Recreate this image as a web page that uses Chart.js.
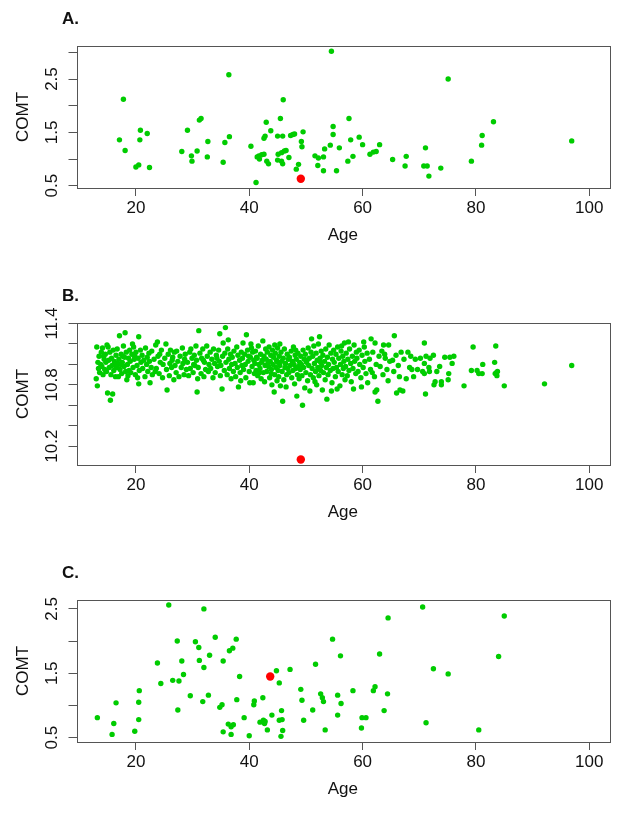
<!DOCTYPE html>
<html>
<head>
<meta charset="utf-8">
<script src="https://cdn.jsdelivr.net/npm/chart.js@4.4.1/dist/chart.umd.min.js"></script>
<style>
  html, body { margin: 0; padding: 0; background: #fff; overflow: hidden; }
  body { width: 621px; height: 815px; position: relative; }
  canvas { position: absolute; left: 0; }
</style>
</head>
<body>
<canvas id="chartA" width="621" height="277" style="top:0px"></canvas>
<canvas id="chartB" width="621" height="277" style="top:277px"></canvas>
<canvas id="chartC" width="621" height="277" style="top:554px"></canvas>
<script>
// ════════════════════════════════════════
// DATA
// ════════════════════════════════════════

const AGE_TICKS = [20, 40, 60, 80, 100];
const AGE_RANGE = [9.52, 103.48];

// Panel A
const yTicksA  = [0.5, 1, 1.5, 2, 2.5, 3];
const yLabelsA = [0.5, 1.5, 2.5];
const yRangeA  = [0.457, 3.119];
const ptsA = [
  [17.8,2.12],[17.1,1.36],[18.1,1.16],[20.8,1.54],[20.7,1.36],[22.0,1.48],[20.0,0.85],[20.5,0.89],[22.4,0.84],
  [28.1,1.14],[29.1,1.54],[29.8,1.06],[29.9,0.96],[31.2,1.73],[31.5,1.76],[30.8,1.15],[32.7,1.33],[32.6,1.04],
  [35.4,0.94],[35.7,1.31],[36.5,1.42],[36.4,2.58],
  [40.3,1.24],[41.2,0.56],[41.4,1.04],[41.7,1.06],[41.8,1.00],[42.2,1.08],[42.6,1.09],[43.0,1.69],[42.8,1.43],
  [42.6,1.39],[43.8,1.53],[43.1,0.96],[43.4,0.91],
  [45.0,1.43],[45.5,1.76],[46.0,2.11],[45.9,1.43],[45.0,0.98],[45.7,0.96],[45.9,0.91],[45.1,1.09],[45.7,1.12],
  [46.2,1.15],[46.5,1.16],[47.0,1.03],[47.3,1.44],[47.7,1.46],[48.0,1.47],
  [49.5,1.51],[49.2,1.33],[49.3,1.23],[48.3,0.81],[48.7,0.90],
  [51.6,1.06],[52.2,1.02],[52.1,0.88],[53.1,1.04],[53.1,0.78],[53.3,1.19],[54.3,1.26],[54.8,1.46],[54.8,1.61],
  [54.5,3.02],[55.4,0.78],[55.9,1.21],
  [57.6,1.76],[57.9,1.36],[59.4,1.41],[60.0,1.27],[58.3,1.05],[57.4,0.96],[61.3,1.09],[61.9,1.13],[62.4,1.14],[63.0,1.27],
  [65.3,0.99],[67.7,1.05],[67.5,0.87],[71.1,1.21],[70.8,0.87],[71.4,0.87],[71.7,0.68],[73.8,0.83],[75.1,2.50],
  [79.2,0.96],[81.0,1.26],[81.1,1.44],[83.1,1.70],[96.9,1.34]
];
const redA = [[49.1, 0.63]];

// Panel B
const yTicksB  = [10.2, 10.4, 10.6, 10.8, 11.0, 11.2, 11.4];
const yLabelsB = [10.2, 10.8, 11.4];
const yRangeB  = [10.016, 11.405];
const ptsB = [
  [13.1,11.17],[13.0,10.86],[13.2,10.79],[13.3,11.02],[13.4,10.96],[13.5,11.08],[13.6,10.92],[13.8,11.00],[13.9,11.12],[14.1,11.16],
  [14.0,10.98],[14.2,10.90],[14.4,11.05],[14.5,10.95],[14.6,11.10],[14.8,10.93],[14.9,11.19],[14.7,11.02],[14.3,11.08],
  [15.0,10.72],[15.1,11.17],[15.2,11.04],[15.3,10.97],[15.5,10.65],[15.4,11.12],[15.6,10.90],[15.7,11.06],[15.9,10.71],[15.8,10.99],
  [16.0,11.14],[16.1,10.94],[16.2,11.03],[16.4,10.88],[16.5,11.09],[16.6,10.97],[16.8,11.01],[16.9,10.88],[16.7,11.15],[16.3,11.00],
  [17.1,11.28],[17.0,11.05],[17.2,10.95],[17.4,11.10],[17.5,10.91],[17.6,11.02],[17.8,11.18],[17.9,10.98],[18.1,11.31],[18.0,11.07],
  [18.2,10.93],[18.4,10.85],[18.3,11.12],[18.5,11.00],[18.7,11.06],[18.8,10.94],[18.9,11.14],[18.6,10.89],[17.7,11.08],[17.3,11.00],
  [19.0,11.03],[19.1,10.92],[19.3,11.10],[19.4,11.20],[19.6,11.17],[19.5,10.97],[19.7,11.05],[19.9,10.90],[20.0,11.12],[20.2,10.99],
  [20.5,11.27],[20.5,10.81],[20.4,11.06],[20.6,10.94],[20.8,11.14],[20.9,11.02],[20.3,10.87],[19.8,11.08],
  [21.1,11.09],[21.2,10.96],[21.4,11.04],[21.6,10.88],[21.7,11.16],[21.9,11.00],[22.1,10.93],[22.3,11.11],[22.5,10.82],[22.4,11.03],
  [22.7,10.97],[22.8,11.13],[22.9,10.90],[22.0,11.07],
  [23.2,11.05],[23.5,11.19],[23.8,11.22],[23.6,10.96],[23.9,11.08],[24.1,10.91],[24.3,11.02],[24.5,11.14],[24.7,10.87],[24.8,11.00],
  [24.2,11.10],[23.4,10.93],
  [25.1,11.06],[25.3,11.20],[25.5,10.75],[25.4,10.95],[25.7,11.10],[25.9,10.89],[26.1,11.14],[26.0,11.01],[26.3,10.97],[26.5,11.07],
  [26.7,10.85],[26.8,11.12],[26.9,10.99],[26.4,11.04],
  [27.2,11.13],[27.1,10.92],[27.4,11.03],[27.6,10.88],[27.8,11.08],[28.0,10.97],[28.2,11.16],[28.3,11.01],[28.5,10.90],[28.7,11.10],
  [28.9,10.95],[28.6,11.05],
  [29.1,11.02],[29.3,10.89],[29.5,11.12],[29.7,11.15],[29.6,10.96],[29.9,11.06],[30.1,10.92],[30.3,11.09],[30.4,10.99],[30.6,11.18],
  [30.8,10.73],[30.7,11.04],[30.9,10.86],[30.2,11.00],
  [31.1,11.33],[31.0,10.97],[31.3,11.11],[31.5,10.91],[31.6,11.06],[31.8,11.15],[32.0,10.88],[32.1,11.02],[32.3,10.95],[32.5,11.18],
  [32.6,11.08],[32.8,10.93],[32.9,11.00],[31.9,11.04],
  [33.1,11.12],[33.2,10.96],[33.4,11.05],[33.6,10.87],[33.7,11.15],[33.9,11.01],[34.0,10.92],[34.2,11.09],[34.4,10.98],[34.6,11.14],
  [34.8,11.30],[34.7,11.03],[34.9,10.89],[34.3,11.06],
  [35.0,10.99],[35.2,10.76],[35.4,11.21],[35.3,11.08],[35.6,10.94],[35.8,11.36],[35.7,11.11],[35.9,11.02],[36.1,10.90],[36.2,11.15],
  [36.4,11.05],[36.5,10.96],[36.7,11.10],[36.8,10.86],[36.9,11.00],[36.3,11.24],
  [37.0,11.07],[37.2,10.93],[37.3,11.13],[37.5,11.01],[37.6,10.88],[37.8,11.17],[37.9,10.97],[38.1,10.78],[38.0,11.09],[38.3,11.04],
  [38.4,10.92],[38.6,11.12],[38.7,10.99],[38.9,11.21],[38.8,11.06],[38.5,10.84],
  [39.0,10.95],[39.2,11.10],[39.3,11.00],[39.5,11.29],[39.4,10.87],[39.7,11.14],[39.8,11.03],[40.0,10.93],[40.1,10.82],[40.3,11.20],
  [40.2,11.07],[40.5,10.98],[40.6,11.12],[40.7,10.82],[40.8,11.04],[40.9,10.91],[40.4,11.16],[39.9,11.08],
  [41.0,11.01],[41.1,11.13],[41.2,10.94],[41.4,11.06],[41.5,10.89],[41.6,11.18],[41.7,11.00],[41.9,10.96],[42.0,11.10],[42.1,10.86],
  [42.3,11.04],[42.4,11.23],[42.5,10.92],[42.6,11.08],[42.8,10.99],[42.9,11.15],[42.7,10.83],[42.2,11.02],[41.3,11.07],[41.8,10.92],
  [43.0,11.05],[43.1,10.93],[43.2,11.12],[43.4,10.98],[43.5,11.17],[43.6,10.87],[43.7,11.03],[43.8,11.09],[43.9,10.95],[44.0,10.80],
  [44.1,11.14],[44.2,11.00],[44.4,10.73],[44.3,11.07],[44.5,10.90],[44.6,11.11],[44.7,10.97],[44.8,11.04],[44.9,10.84],[43.3,11.01],
  [44.5,11.19],[43.9,10.91],
  [45.0,11.16],[45.1,10.94],[45.0,11.02],[45.2,10.88],[45.3,11.08],[45.4,10.99],[45.5,10.79],[45.6,11.12],[45.7,11.03],[45.9,10.64],
  [45.8,10.93],[46.0,11.06],[46.1,10.85],[46.2,11.15],[46.3,10.97],[46.4,11.01],[46.6,10.90],[46.7,11.10],[46.8,10.96],[46.9,11.05],
  [46.5,10.78],[45.4,11.20],
  [47.0,10.92],[47.1,11.07],[47.2,10.99],[47.4,11.13],[47.5,10.87],[47.6,11.03],[47.8,11.17],[47.7,10.94],[47.9,11.00],[48.0,10.81],
  [48.1,11.09],[48.2,10.96],[48.4,10.69],[48.3,11.05],[48.5,10.90],[48.6,11.11],[48.7,10.98],[48.9,11.02],[48.8,10.86],[48.2,11.14],
  [49.0,10.95],[49.1,11.08],[49.4,10.60],[49.2,11.00],[49.3,10.89],[49.5,11.14],[49.6,10.97],[49.7,11.05],[49.8,10.77],[49.9,11.10],
  [50.0,10.92],[50.1,11.02],[50.3,10.84],[50.4,11.16],[50.5,10.99],[50.6,11.06],[50.8,10.90],[50.9,11.12],[51.0,11.25],[50.7,10.74],
  [50.2,11.04],
  [51.1,10.96],[51.2,11.08],[51.3,10.87],[51.4,11.18],[51.5,11.01],[51.7,10.93],[51.8,11.11],[51.9,10.80],[52.0,11.04],[52.1,10.97],
  [52.2,11.20],[52.4,11.27],[52.3,10.89],[52.5,11.06],[52.6,10.94],[52.7,11.13],[52.8,10.99],[52.9,10.75],[52.6,11.02],[51.6,10.83],
  [53.0,11.09],[53.1,10.92],[53.3,11.03],[53.4,10.85],[53.5,11.15],[53.7,10.66],[53.6,10.97],[53.8,11.07],[53.9,10.90],[54.1,11.19],
  [54.0,11.00],[54.3,10.94],[54.4,11.11],[54.6,10.82],[54.7,11.05],[54.8,10.96],[54.9,11.14],[54.5,10.74],
  [55.0,11.02],[55.2,10.88],[55.3,11.10],[55.4,10.97],[55.6,11.17],[55.7,10.93],[55.8,11.06],[56.0,10.79],[56.1,11.00],[56.2,11.13],
  [56.4,10.90],[56.5,11.08],[56.6,10.96],[56.8,11.21],[56.9,10.85],[56.7,11.03],[55.5,10.76],[56.3,11.18],
  [57.0,10.98],[57.1,11.11],[57.3,10.89],[57.4,11.05],[57.6,10.94],[57.7,11.15],[57.9,11.01],[58.0,10.83],[58.2,11.08],[58.3,10.96],
  [58.5,11.19],[58.6,11.03],[58.8,10.91],[58.9,11.12],[58.4,10.76],[57.5,11.22],
  [59.0,11.06],[59.2,10.93],[59.4,11.14],[59.5,11.00],[59.7,10.87],[59.9,11.09],[60.1,10.97],[60.3,11.17],[60.4,11.03],[60.6,10.91],
  [60.8,11.11],[60.9,10.82],[60.2,11.22],[59.8,10.78],
  [61.2,11.05],[61.5,11.25],[61.4,10.95],[61.8,11.12],[62.2,11.21],[62.1,10.88],[62.5,10.75],[62.7,10.64],[62.4,11.00],[62.9,11.08],
  [62.2,10.73],[61.7,10.92],
  [63.1,10.98],[63.4,11.13],[63.7,11.19],[63.6,10.90],[64.0,11.06],[64.3,10.95],[64.6,11.19],[64.5,10.84],[64.8,11.03],[63.9,11.10],
  [65.3,11.04],[65.6,11.28],[65.5,10.93],[65.9,11.09],[66.0,10.72],[66.3,10.99],[66.6,10.75],[66.8,11.12],[67.1,10.74],[66.5,10.88],
  [67.3,11.05],[67.7,10.86],[68.0,11.12],[68.3,10.97],[68.7,10.95],[69.0,10.88],[68.5,11.08],
  [69.3,11.05],[69.7,10.95],[70.2,11.06],[70.6,10.93],[70.9,11.01],[70.9,10.91],[70.9,11.21],[71.1,10.71],[71.2,11.08],
  [71.7,10.97],[71.8,10.93],[71.9,11.06],[72.5,11.09],[72.6,10.80],[72.8,10.83],
  [73.1,10.93],[73.6,10.98],[73.9,10.83],[73.9,10.80],[74.5,11.07],
  [75.1,10.85],[75.2,10.91],[75.4,11.07],[75.8,11.01],[76.1,11.08],
  [77.9,10.79],[79.2,10.94],[79.5,11.17],[80.2,10.94],[80.5,10.91],[81.1,10.91],[81.2,11.00],
  [83.3,11.02],[83.5,11.18],[83.6,10.92],[83.4,10.91],[83.8,10.93],[83.7,10.89],[85.0,10.79],
  [92.1,10.81],[96.9,10.99]
];
const redB = [[49.1, 10.07]];

// Panel C
const yTicksC  = [0.5, 1, 1.5, 2, 2.5];
const yLabelsC = [0.5, 1.5, 2.5];
const yRangeC  = [0.432, 2.638];
const ptsC = [
  [13.2,0.81],[16.1,0.72],[15.8,0.55],[16.5,1.04],[19.8,0.60],[20.6,1.23],[20.5,1.05],[20.5,0.78],
  [23.8,1.66],[24.4,1.34],[25.8,2.56],[27.3,2.00],[26.5,1.39],[27.6,1.38],[28.1,1.69],[28.4,1.48],[27.4,0.93],[29.6,1.15],
  [30.5,1.99],[31.1,1.90],[31.2,1.70],[32.0,2.50],[32.0,1.59],[31.8,1.06],[32.8,1.16],[33.0,1.78],[34.0,2.06],[35.4,1.69],
  [34.8,0.97],[35.2,1.01],
  [36.5,1.85],[37.1,1.89],[37.7,2.03],[38.3,1.45],[37.8,1.09],[36.3,0.71],[36.8,0.67],[37.2,0.70],[35.4,0.59],[36.8,0.55],
  [39.1,0.81],[40.0,0.53],[40.9,1.07],[40.8,1.01],[42.4,1.12],[41.9,0.74],[42.5,0.77],[42.7,0.72],[42.8,0.75],[43.2,0.62],
  [44.8,1.54],[45.3,1.35],[47.2,1.56],[44.0,0.85],[45.3,0.77],[45.8,0.78],[45.7,0.92],[45.9,0.61],[45.6,0.52],
  [49.1,1.25],[49.3,1.08],[49.6,0.77],[51.7,1.64],[52.6,1.18],[52.9,1.12],[53.1,1.06],[51.2,0.93],[53.4,0.62],
  [54.7,2.03],[55.6,1.16],[55.6,0.85],[56.1,1.77],[56.2,1.03],[58.3,1.23],[59.8,0.65],[59.9,0.81],[60.6,0.81],
  [61.9,1.23],[62.2,1.29],[63.0,1.80],[63.8,0.92],[64.4,1.18],[64.5,2.36],[70.6,2.53],[71.2,0.73],[72.5,1.57],[75.1,1.49],
  [80.5,0.62],[84.0,1.76],[85.0,2.39]
];
const redC = [[43.7, 1.45]];

// ════════════════════════════════════════
// STYLE
// ════════════════════════════════════════

const FONT  = "'Liberation Sans', Arial, sans-serif";
const INK   = '#111';
const AXIS  = '#555';
const GREEN = '#00CC00';
const RED   = '#FF0000';

const toXY = arr => arr.map(p => ({ x: p[0], y: p[1] }));

// box round the plot, panel letter and rotated y labels (R style)
const panelText = {
  id: 'panelText',
  afterDraw(chart, args, opts) {
    const { ctx, chartArea: a } = chart;
    const ys = chart.scales.y;
    ctx.save();
    ctx.strokeStyle = AXIS;
    ctx.lineWidth = 1;
    ctx.strokeRect(Math.round(a.left) + 0.5, Math.round(a.top) + 0.5,
                   Math.round(a.right - a.left), Math.round(a.bottom - a.top));

    ctx.fillStyle = INK;
    ctx.font = 'bold 17px ' + FONT;
    ctx.textAlign = 'left';
    ctx.textBaseline = 'middle';
    ctx.fillText(opts.letter, 62, 19);

    ctx.font = '17px ' + FONT;
    ctx.textAlign = 'center';
    opts.yLabels.forEach(v => {
      ctx.save();
      ctx.translate(52, ys.getPixelForValue(v));
      ctx.rotate(-Math.PI / 2);
      ctx.fillText(v.toFixed(1), 0, 0);
      ctx.restore();
    });
    ctx.restore();
  }
};

function makePanel(canvasId, letter, pts, red, yTicks, yLabels, yRange) {
  const ctx = document.getElementById(canvasId).getContext('2d');
  return new Chart(ctx, {
    type: 'scatter',
    data: {
      datasets: [
        { data: toXY(red), backgroundColor: RED,   pointRadius: 4.2, borderWidth: 0, order: 0 },
        { data: toXY(pts), backgroundColor: GREEN, pointRadius: 2.7, borderWidth: 0, order: 1 }
      ]
    },
    options: {
      responsive: false, animation: false, devicePixelRatio: 1,
      layout: { padding: { top: 46, right: 12, left: 0, bottom: 0 } },
      plugins: {
        legend: { display: false },
        tooltip: { enabled: false },
        panelText: { letter, yLabels }
      },
      scales: {
        x: {
          type: 'linear', min: AGE_RANGE[0], max: AGE_RANGE[1],
          afterBuildTicks: s => { s.ticks = AGE_TICKS.map(v => ({ value: v })); },
          afterFit: s => { s.height = 89; },
          ticks: { color: INK, font: { family: FONT, size: 17 }, padding: 2.3, maxRotation: 0, autoSkip: false, callback: v => String(v) },
          grid: { drawOnChartArea: false, drawTicks: true, tickLength: 8, color: AXIS },
          border: { display: false },
          title: { display: true, text: 'Age', color: INK, font: { family: FONT, size: 17 }, padding: { top: 0, bottom: 31.3 } }
        },
        y: {
          type: 'linear', min: yRange[0], max: yRange[1],
          afterBuildTicks: s => { s.ticks = yTicks.map(v => ({ value: v })); },
          afterFit: s => { s.width = 76.5; },
          ticks: { display: false },
          grid: { drawOnChartArea: false, drawTicks: true, tickLength: 8, color: AXIS },
          border: { display: false },
          title: { display: true, text: 'COMT', color: INK, font: { family: FONT, size: 17 }, padding: { top: 12.8, bottom: 0 } }
        }
      }
    },
    plugins: [panelText]
  });
}

makePanel('chartA', 'A.', ptsA, redA, yTicksA, yLabelsA, yRangeA);
makePanel('chartB', 'B.', ptsB, redB, yTicksB, yLabelsB, yRangeB);
makePanel('chartC', 'C.', ptsC, redC, yTicksC, yLabelsC, yRangeC);
</script>
</body>
</html>
